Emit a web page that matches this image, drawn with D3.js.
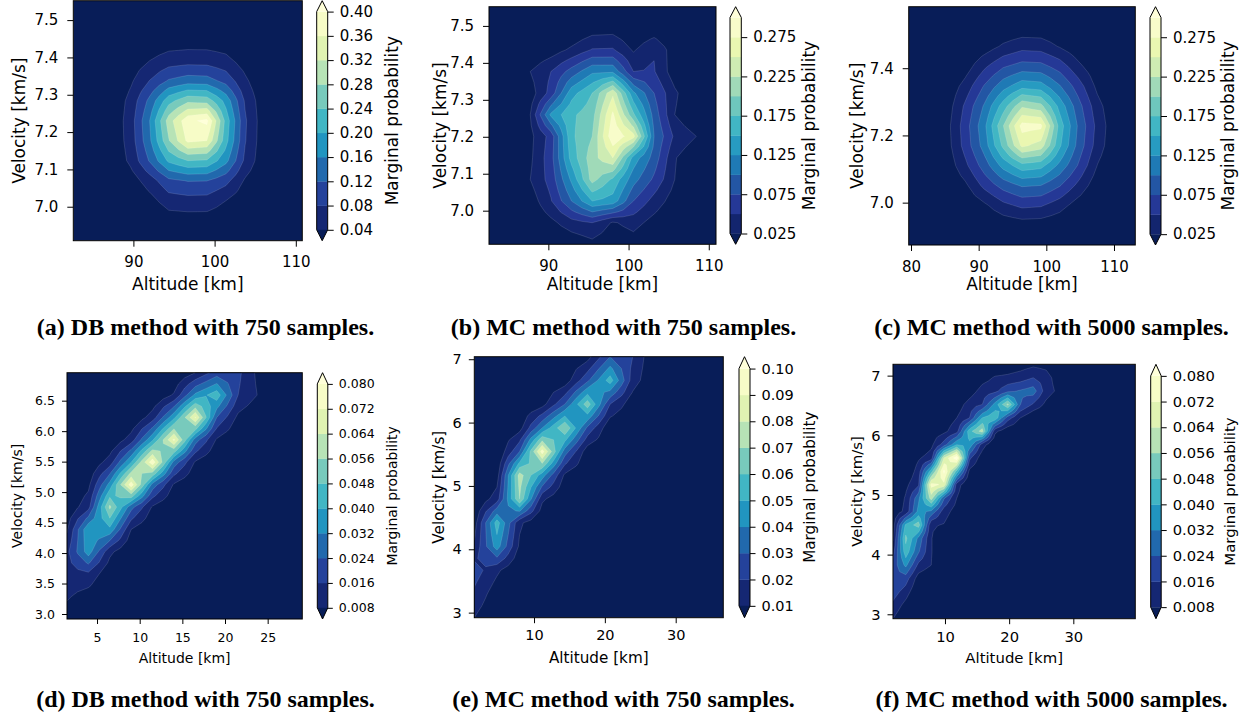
<!DOCTYPE html>
<html><head><meta charset="utf-8">
<script src="https://cdn.jsdelivr.net/npm/d3@7"></script>
<style>body{margin:0;background:#fff}svg{display:block}</style>
</head><body>
<svg id="chart" width="1246" height="719"></svg>
<script>
// ---------------- DATA ----------------
// (a) DB method, 750 samples (upper altitude range)
const aAltRange = [82.6, 110.8];
const aVelRange = [6.909, 7.552];
const aAltTicks = [90, 100, 110];
const aVelTicks = [7.0, 7.1, 7.2, 7.3, 7.4, 7.5];
const aLevels = [0.04, 0.08, 0.12, 0.16, 0.20, 0.24, 0.28, 0.32, 0.36, 0.40];
const aCbarTicks = [0.04, 0.08, 0.12, 0.16, 0.20, 0.24, 0.28, 0.32, 0.36, 0.40];
const aProb = [ // rows: high velocity (top) -> low velocity (bottom)
  [0,0,0,0,0,0,0,0,0,0,0,0,0],
  [0,0,0,0,0,0,0,0,0,0,0,0,0],
  [0,0,0,0.002,0.011,0.018,0.020,0.020,0.016,0.005,0,0,0],
  [0,0,0,0.014,0.040,0.060,0.065,0.064,0.052,0.022,0,0,0],
  [0,0,0.002,0.033,0.081,0.124,0.140,0.137,0.106,0.048,0.005,0,0],
  [0,0,0.006,0.053,0.131,0.225,0.270,0.264,0.186,0.075,0.012,0,0],
  [0,0,0.008,0.060,0.160,0.300,0.390,0.410,0.225,0.086,0.014,0,0],
  [0,0,0.007,0.058,0.152,0.277,0.370,0.360,0.214,0.083,0.013,0,0],
  [0,0,0.005,0.049,0.124,0.208,0.240,0.235,0.172,0.071,0.011,0,0],
  [0,0,0.001,0.020,0.060,0.110,0.122,0.121,0.093,0.035,0.005,0,0],
  [0,0,0,0.006,0.025,0.060,0.065,0.064,0.040,0.012,0,0,0],
  [0,0,0,0.001,0.006,0.018,0.020,0.020,0.012,0.003,0,0,0],
  [0,0,0,0,0,0,0,0,0,0,0,0,0]
];
const aGridAlt = [82.6, 110.8];
const aGridVel = [6.909, 7.552];

// (b) MC method, 750 samples (upper altitude range)
const bAltRange = [82.6, 110.9];
const bVelRange = [6.909, 7.552];
const bAltTicks = [90, 100, 110];
const bVelTicks = [7.0, 7.1, 7.2, 7.3, 7.4, 7.5];
const bLevels = [0.025, 0.05, 0.075, 0.1, 0.125, 0.15, 0.175, 0.2, 0.225, 0.25, 0.275, 0.3];
const bCbarTicks = [0.025, 0.075, 0.125, 0.175, 0.225, 0.275];
const bProb = [
  [0,0,0,0,0,0,0,0,0,0,0,0],
  [0,0,0,0,0,0.012,0.014,0,0.008,0,0,0],
  [0,0,0,0.012,0.03,0.052,0.053,0.022,0.048,0.01,0,0],
  [0,0,0.025,0.05,0.085,0.12,0.12,0.05,0.052,0.01,0,0],
  [0,0,0.012,0.06,0.14,0.175,0.245,0.13,0.075,0.03,0,0],
  [0,0,0.025,0.13,0.17,0.19,0.28,0.18,0.09,0.025,0,0],
  [0,0,0.018,0.06,0.17,0.2,0.295,0.26,0.1,0.045,0.026,0],
  [0,0,0.02,0.065,0.16,0.215,0.25,0.14,0.09,0.027,0.005,0],
  [0,0,0.025,0.06,0.13,0.21,0.17,0.11,0.07,0.025,0,0],
  [0,0,0.01,0.048,0.1,0.15,0.14,0.075,0.04,0.012,0,0],
  [0,0,0,0.018,0.04,0.05,0.022,0.035,0.015,0,0,0],
  [0,0,0,0,0.005,0.017,0.005,0.011,0,0,0,0]
];
const bGridAlt = [82.6, 110.9];
const bGridVel = [6.909, 7.552];

// (c) MC method, 5000 samples (upper altitude range)
const cAltRange = [79.66, 113.15];
const cVelRange = [6.874, 7.583];
const cAltTicks = [80, 90, 100, 110];
const cVelTicks = [7.0, 7.2, 7.4];
const cLevels = [0.025, 0.05, 0.075, 0.1, 0.125, 0.15, 0.175, 0.2, 0.225, 0.25, 0.275, 0.3];
const cCbarTicks = [0.025, 0.075, 0.125, 0.175, 0.225, 0.275];
const cProb = [
  [0,0,0,0,0,0,0,0,0,0,0,0,0],
  [0,0,0,0,0,0.003,0.006,0.006,0.002,0,0,0,0],
  [0,0,0,0,0.011,0.029,0.041,0.039,0.023,0.006,0,0,0],
  [0,0,0,0.012,0.045,0.072,0.085,0.083,0.064,0.031,0.005,0,0],
  [0,0,0.004,0.035,0.077,0.115,0.141,0.136,0.102,0.062,0.018,0,0],
  [0,0,0.010,0.055,0.103,0.162,0.221,0.208,0.141,0.084,0.034,0.002,0],
  [0,0,0.015,0.063,0.118,0.199,0.285,0.282,0.164,0.095,0.042,0.004,0],
  [0,0,0.013,0.060,0.111,0.181,0.256,0.239,0.154,0.090,0.038,0.003,0],
  [0,0,0.007,0.044,0.087,0.134,0.166,0.159,0.118,0.072,0.024,0,0],
  [0,0,0,0.020,0.057,0.085,0.103,0.100,0.077,0.043,0.008,0,0],
  [0,0,0,0.003,0.020,0.043,0.056,0.053,0.036,0.012,0,0,0],
  [0,0,0,0,0,0.007,0.012,0.011,0.005,0,0,0,0],
  [0,0,0,0,0,0,0,0,0,0,0,0,0]
];
const cGridAlt = [79.66, 113.15];
const cGridVel = [6.874, 7.583];

// (d) DB method, 750 samples (lower altitude range)
const dAltRange = [1.48, 29.06];
const dVelRange = [2.918, 6.959];
const dAltTicks = [5, 10, 15, 20, 25];
const dVelTicks = [3.0, 3.5, 4.0, 4.5, 5.0, 5.5, 6.0, 6.5];
const dLevels = [0.008, 0.016, 0.024, 0.032, 0.040, 0.048, 0.056, 0.064, 0.072, 0.080];
const dCbarTicks = [0.008, 0.016, 0.024, 0.032, 0.040, 0.048, 0.056, 0.064, 0.072, 0.080];
const dProb = [
  [0,0,0,0,0,0,0.008,0.02,0.018,0.005,0,0],
  [0,0,0,0,0,0.009,0.034,0.045,0.016,0.007,0,0],
  [0,0,0,0,0.012,0.038,0.073,0.024,0.006,0,0,0],
  [0,0,0,0.012,0.039,0.074,0.028,0.007,0,0,0,0],
  [0,0,0.012,0.040,0.078,0.029,0.007,0,0,0,0,0],
  [0,0.006,0.035,0.077,0.029,0.007,0,0,0,0,0,0],
  [0.002,0.013,0.058,0.027,0.007,0,0,0,0,0,0,0],
  [0.007,0.039,0.038,0.008,0,0,0,0,0,0,0,0],
  [0.014,0.036,0.01,0,0,0,0,0,0,0,0,0],
  [0.013,0.014,0.002,0,0,0,0,0,0,0,0,0],
  [0.009,0.004,0,0,0,0,0,0,0,0,0,0],
  [0.004,0,0,0,0,0,0,0,0,0,0,0]
];
const dGridAlt = [1.48, 29.06];
const dGridVel = [2.918, 6.959];

// (e) MC method, 750 samples (lower altitude range)
const eAltRange = [1.57, 36.72];
const eVelRange = [2.92, 7.04];
const eAltTicks = [10, 20, 30];
const eVelTicks = [3, 4, 5, 6, 7];
const eLevels = [0.01, 0.02, 0.03, 0.04, 0.05, 0.06, 0.07, 0.08, 0.09, 0.10];
const eCbarTicks = [0.01, 0.02, 0.03, 0.04, 0.05, 0.06, 0.07, 0.08, 0.09, 0.10];
const eProb = [
  [0,0,0,0,0,0.006,0.03,0.02,0,0,0,0],
  [0,0,0,0,0.004,0.028,0.055,0.015,0,0,0,0],
  [0,0,0,0.006,0.03,0.066,0.02,0.004,0,0,0,0],
  [0,0,0.006,0.04,0.07,0.028,0.002,0,0,0,0,0],
  [0,0,0.03,0.095,0.035,0.004,0,0,0,0,0,0],
  [0,0.005,0.075,0.045,0.008,0,0,0,0,0,0,0],
  [0,0.015,0.07,0.012,0,0,0,0,0,0,0,0],
  [0.005,0.055,0.012,0,0,0,0,0,0,0,0,0],
  [0.012,0.045,0.008,0,0,0,0,0,0,0,0,0],
  [0.025,0.012,0,0,0,0,0,0,0,0,0,0],
  [0.018,0.004,0,0,0,0,0,0,0,0,0,0],
  [0.01,0,0,0,0,0,0,0,0,0,0,0]
];
const eGridAlt = [1.57, 36.72];
const eGridVel = [2.92, 7.04];

// (f) MC method, 5000 samples (lower altitude range)
const fAltRange = [1.9, 39.66];
const fVelRange = [2.926, 7.19];
const fAltTicks = [10, 20, 30];
const fVelTicks = [3, 4, 5, 6, 7];
const fLevels = [0.008, 0.016, 0.024, 0.032, 0.040, 0.048, 0.056, 0.064, 0.072, 0.080];
const fCbarTicks = [0.008, 0.016, 0.024, 0.032, 0.040, 0.048, 0.056, 0.064, 0.072, 0.080];
const fProb = [
  [0,0,0,0,0,0,0,0,0,0.002,0.004,0.006,0.005,0,0],
  [0,0,0,0,0,0,0,0.004,0.009,0.01,0.012,0.016,0.012,0.003,0],
  [0,0,0,0,0,0,0.003,0.012,0.014,0.022,0.025,0.028,0.012,0.006,0],
  [0,0,0,0,0,0.003,0.012,0.016,0.035,0.058,0.024,0.015,0.006,0,0],
  [0,0,0,0,0.003,0.008,0.016,0.04,0.046,0.02,0.008,0,0,0,0],
  [0,0,0,0.003,0.006,0.013,0.045,0.06,0.01,0.002,0,0,0,0,0],
  [0,0,0,0.006,0.02,0.04,0.038,0.012,0,0,0,0,0,0,0],
  [0,0,0.007,0.012,0.065,0.086,0.018,0.003,0,0,0,0,0,0,0],
  [0,0,0.012,0.045,0.082,0.045,0.006,0,0,0,0,0,0,0,0],
  [0,0.006,0.015,0.075,0.07,0.012,0,0,0,0,0,0,0,0,0],
  [0,0.009,0.03,0.06,0.025,0.008,0,0,0,0,0,0,0,0,0],
  [0.003,0.01,0.035,0.03,0.012,0.004,0,0,0,0,0,0,0,0,0],
  [0.004,0.042,0.052,0.009,0.0075,0,0,0,0,0,0,0,0,0,0],
  [0.007,0.05,0.03,0.0085,0,0,0,0,0,0,0,0,0,0,0],
  [0.013,0.045,0.025,0.0085,0,0,0,0,0,0,0,0,0,0,0],
  [0.019,0.034,0.014,0.008,0,0,0,0,0,0,0,0,0,0,0],
  [0.022,0.02,0.004,0,0,0,0,0,0,0,0,0,0,0,0],
  [0.02,0.012,0,0,0,0,0,0,0,0,0,0,0,0,0],
  [0.014,0.005,0,0,0,0,0,0,0,0,0,0,0,0,0],
  [0.008,0,0,0,0,0,0,0,0,0,0,0,0,0,0]
];
const fGridAlt = [1.9, 29.72];
const fGridVel = [2.926, 7.19];

const captions = ["(a) DB method with 750 samples.", "(b) MC method with 750 samples.",
  "(c) MC method with 5000 samples.", "(d) DB method with 750 samples.",
  "(e) MC method with 750 samples.", "(f) MC method with 5000 samples."];
const xLabel = "Altitude [km]";
const yLabel = "Velocity [km/s]";
const cLabel = "Marginal probability";

// ---------------- STYLE / LAYOUT ----------------
const cmapStops = ["#081d58","#253494","#225ea8","#1d91c0","#41b6c4","#7fcdbb","#c7e9b4","#edf8b1","#ffffd9"];
const cmap = d3.scaleLinear().domain(d3.range(9).map(i => i / 8)).range(cmapStops)
  .interpolate(d3.interpolateRgb).clamp(true);

const layout = [
  {x:73.3, y:0.7, w:229, h:240, cbx:316.7, cbw:11, tf:15, lf:17, tick:6, padX:10, padY:9, cpad:6,
   ylx:19.5, xlb:290, clx:391.7, capx:205.5, capy:334.5},
  {x:489, y:6.7, w:227, h:237.6, cbx:730, cbw:11.3, tf:15, lf:17, tick:6, padX:10, padY:9, cpad:6,
   ylx:440, xlb:290, clx:809.3, capx:623.5, capy:334.5},
  {x:908.7, y:6.7, w:226.6, h:238.3, cbx:1150, cbw:11, tf:15, lf:17, tick:6, padX:10, padY:9, cpad:6,
   ylx:857.5, xlb:290, clx:1228.3, capx:1051.5, capy:334.5},
  {x:67, y:372.7, w:235.3, h:246.3, cbx:317.3, cbw:10.5, tf:12.5, lf:14, tick:5, padX:9, padY:7, cpad:6,
   ylx:17.5, xlb:663, clx:391.7, capx:205.5, capy:706.5},
  {x:474.3, y:356.7, w:249, h:261, cbx:739, cbw:11, tf:14.5, lf:15.2, tick:5.5, padX:7, padY:7, cpad:6,
   ylx:438.3, xlb:662.5, clx:810, capx:623.5, capy:706.5},
  {x:893, y:364.3, w:242.3, h:254.4, cbx:1150.7, cbw:10.5, tf:14.7, lf:14.9, tick:5.5, padX:7.5, padY:7, cpad:6,
   ylx:856.7, xlb:663, clx:1230, capx:1051.5, capy:706.5}
];

const panels = [
  {grid:aProb, gx:aGridAlt, gy:aGridVel, xDom:aAltRange, yDom:aVelRange, levels:aLevels,
   xTicks:aAltTicks, yTicks:aVelTicks, cTicks:aCbarTicks, xFmt:d3.format("d"), yFmt:d3.format(".1f"), cFmt:d3.format(".2f")},
  {grid:bProb, gx:bGridAlt, gy:bGridVel, xDom:bAltRange, yDom:bVelRange, levels:bLevels,
   xTicks:bAltTicks, yTicks:bVelTicks, cTicks:bCbarTicks, xFmt:d3.format("d"), yFmt:d3.format(".1f"), cFmt:d3.format(".3f")},
  {grid:cProb, gx:cGridAlt, gy:cGridVel, xDom:cAltRange, yDom:cVelRange, levels:cLevels,
   xTicks:cAltTicks, yTicks:cVelTicks, cTicks:cCbarTicks, xFmt:d3.format("d"), yFmt:d3.format(".1f"), cFmt:d3.format(".3f")},
  {grid:dProb, gx:dGridAlt, gy:dGridVel, xDom:dAltRange, yDom:dVelRange, levels:dLevels,
   xTicks:dAltTicks, yTicks:dVelTicks, cTicks:dCbarTicks, xFmt:d3.format("d"), yFmt:d3.format(".1f"), cFmt:d3.format(".3f")},
  {grid:eProb, gx:eGridAlt, gy:eGridVel, xDom:eAltRange, yDom:eVelRange, levels:eLevels,
   xTicks:eAltTicks, yTicks:eVelTicks, cTicks:eCbarTicks, xFmt:d3.format("d"), yFmt:d3.format("d"), cFmt:d3.format(".2f")},
  {grid:fProb, gx:fGridAlt, gy:fGridVel, xDom:fAltRange, yDom:fVelRange, levels:fLevels,
   xTicks:fAltTicks, yTicks:fVelTicks, cTicks:fCbarTicks, xFmt:d3.format("d"), yFmt:d3.format("d"), cFmt:d3.format(".3f")}
];

// Insert edge / cell-centre averages so that saddle cells are resolved with the
// mean of the four corners (as matplotlib's contourf does).
function refineGrid(rows) {
  const m = rows.length, n = rows[0].length;
  const n2 = 2 * n - 1, m2 = 2 * m - 1;
  const out = new Array(n2 * m2);
  for (let j = 0; j < m2; j++) {
    for (let i = 0; i < n2; i++) {
      const i0 = i >> 1, j0 = j >> 1, oi = i & 1, oj = j & 1;
      let v;
      if (!oi && !oj) v = rows[j0][i0];
      else if (oi && !oj) v = (rows[j0][i0] + rows[j0][i0 + 1]) / 2;
      else if (!oi && oj) v = (rows[j0][i0] + rows[j0 + 1][i0]) / 2;
      else v = (rows[j0][i0] + rows[j0][i0 + 1] + rows[j0 + 1][i0] + rows[j0 + 1][i0 + 1]) / 4;
      out[j * n2 + i] = v;
    }
  }
  return {values: out, n: n2, m: m2};
}

const svg = d3.select("#chart");
const FONT = "DejaVu Sans";

panels.forEach((p, k) => {
  const L = layout[k];
  const g = svg.append("g");
  const x = d3.scaleLinear().domain(p.xDom).range([L.x, L.x + L.w]);
  const y = d3.scaleLinear().domain(p.yDom).range([L.y + L.h, L.y]);
  const clipId = "clip" + k;
  g.append("clipPath").attr("id", clipId).append("rect")
    .attr("x", L.x).attr("y", L.y).attr("width", L.w).attr("height", L.h);
  const plot = g.append("g").attr("clip-path", `url(#${clipId})`);
  plot.append("rect").attr("x", L.x).attr("y", L.y).attr("width", L.w).attr("height", L.h)
    .attr("fill", cmap(0));

  const R = refineGrid(p.grid);
  const stepX = (p.gx[1] - p.gx[0]) / (R.n - 1);
  const stepY = (p.gy[1] - p.gy[0]) / (R.m - 1);
  const proj = d3.geoTransform({
    point(px, py) {
      this.stream.point(x(p.gx[0] + (px - 0.5) * stepX), y(p.gy[1] - (py - 0.5) * stepY));
    }
  });
  const path = d3.geoPath(proj);
  const nb = p.levels.length - 1;
  const cs = d3.contours().size([R.n, R.m]).thresholds(p.levels)(R.values);
  cs.forEach((c, i) => {
    const col = i < nb ? cmap((i + 0.5) / nb) : cmap(1);
    plot.append("path").attr("d", path(c)).attr("fill", col)
      .attr("stroke", "rgba(255,255,255,0.22)").attr("stroke-width", 0.6)
      .attr("stroke-linejoin", "round");
  });

  // spines
  g.append("rect").attr("x", L.x).attr("y", L.y).attr("width", L.w).attr("height", L.h)
    .attr("fill", "none").attr("stroke", "#000").attr("stroke-width", 1);

  // axes
  const ax = g.append("g").attr("transform", `translate(0,${L.y + L.h})`)
    .call(d3.axisBottom(x).tickValues(p.xTicks).tickFormat(p.xFmt).tickSize(L.tick).tickPadding(L.padX).tickSizeOuter(0));
  const ay = g.append("g").attr("transform", `translate(${L.x},0)`)
    .call(d3.axisLeft(y).tickValues(p.yTicks).tickFormat(p.yFmt).tickSize(L.tick).tickPadding(L.padY).tickSizeOuter(0));
  [ax, ay].forEach(a => {
    a.select(".domain").remove();
    a.attr("font-family", FONT).attr("font-size", L.tf);
    a.selectAll("line").attr("stroke", "#000").attr("stroke-width", 1);
    a.selectAll("text").attr("fill", "#000");
  });

  g.append("text").attr("x", L.x + L.w / 2).attr("y", L.xlb).attr("text-anchor", "middle")
    .attr("font-family", FONT).attr("font-size", L.lf).attr("fill", "#000").text(xLabel);
  g.append("text").attr("transform", `translate(${L.ylx},${L.y + L.h / 2}) rotate(-90)`)
    .attr("dy", "0.35em").attr("text-anchor", "middle")
    .attr("font-family", FONT).attr("font-size", L.lf).attr("fill", "#000").text(yLabel);

  // colorbar
  const tri = L.h / 1.1 * 0.05;
  const top = L.y + tri, bot = L.y + L.h - tri;
  const cx0 = L.cbx, cw = L.cbw;
  const cscale = d3.scaleLinear().domain([p.levels[0], p.levels[nb]]).range([bot, top]);
  const cb = g.append("g");
  for (let i = 0; i < nb; i++) {
    cb.append("rect").attr("x", cx0).attr("width", cw)
      .attr("y", cscale(p.levels[i + 1])).attr("height", cscale(p.levels[i]) - cscale(p.levels[i + 1]) + 0.3)
      .attr("fill", cmap((i + 0.5) / nb));
  }
  cb.append("path").attr("d", `M${cx0},${top} L${cx0 + cw / 2},${L.y} L${cx0 + cw},${top} Z`).attr("fill", cmap(1));
  cb.append("path").attr("d", `M${cx0},${bot} L${cx0 + cw / 2},${L.y + L.h} L${cx0 + cw},${bot} Z`).attr("fill", cmap(0));
  cb.append("path")
    .attr("d", `M${cx0},${top} L${cx0 + cw / 2},${L.y} L${cx0 + cw},${top} L${cx0 + cw},${bot} L${cx0 + cw / 2},${L.y + L.h} L${cx0},${bot} Z`)
    .attr("fill", "none").attr("stroke", "#000").attr("stroke-width", 1);
  const ac = cb.append("g").attr("transform", `translate(${cx0 + cw},0)`)
    .call(d3.axisRight(cscale).tickValues(p.cTicks).tickFormat(p.cFmt).tickSize(L.tick).tickPadding(L.cpad).tickSizeOuter(0));
  ac.select(".domain").remove();
  ac.attr("font-family", FONT).attr("font-size", L.tf);
  ac.selectAll("line").attr("stroke", "#000").attr("stroke-width", 1);
  ac.selectAll("text").attr("fill", "#000");
  cb.append("text").attr("transform", `translate(${L.clx},${L.y + L.h / 2}) rotate(-90)`)
    .attr("dy", "0.35em").attr("text-anchor", "middle")
    .attr("font-family", FONT).attr("font-size", L.lf).attr("fill", "#000").text(cLabel);

  // caption
  svg.append("text").attr("x", L.capx).attr("y", L.capy).attr("text-anchor", "middle")
    .attr("font-family", "Liberation Serif").attr("font-weight", "bold").attr("font-size", 24)
    .attr("fill", "#000").text(captions[k]);
});
</script>
</body></html>
